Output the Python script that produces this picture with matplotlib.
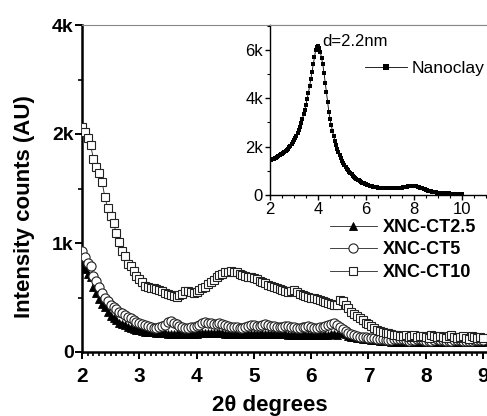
import numpy as np
import matplotlib
matplotlib.use("Agg")
import matplotlib.pyplot as plt
from matplotlib.ticker import FixedLocator, MultipleLocator

plt.rcParams["font.family"] = ["Liberation Sans", "DejaVu Sans"]

# XRD scans, 2-theta step 0.05 deg
two_theta = np.linspace(2.0, 9.0, 141)

ct25 = [
    800, 760, 720, 690, 600, 540, 490, 440, 410, 370,
    330, 310, 290, 270, 255, 245, 230, 220, 212, 205,
    198, 192, 188, 185, 182, 180, 178, 175, 172, 170,
    168, 166, 165, 164, 163, 162, 162, 163, 165, 166,
    168, 170, 172, 174, 175, 176, 175, 174, 172, 170,
    168, 166, 165, 164, 165, 166, 168, 167, 165, 163,
    162, 163, 165, 166, 165, 163, 162, 162, 163, 164,
    163, 162, 160, 159, 158, 158, 159, 160, 160, 159,
    158, 157, 156, 156, 157, 158, 160, 162, 163, 160,
    170, 175, 165, 150, 140, 135, 130, 126, 122, 118,
    115, 112, 110, 108, 105, 102, 100, 98, 96, 95,
    95, 94, 93, 93, 92, 92, 91, 91, 92, 92,
    93, 93, 92, 92, 91, 90, 90, 91, 91, 92,
    92, 91, 90, 90, 89, 89, 90, 90, 91, 91,
    90,
]

ct5 = [
    930, 870, 820, 790, 700, 650, 600, 540, 500, 470,
    430, 410, 390, 370, 355, 340, 325, 310, 290, 275,
    265, 255, 245, 235, 228, 222, 220, 225, 235, 250,
    275, 280, 270, 255, 240, 230, 222, 220, 225, 228,
    235, 250, 265, 275, 270, 262, 255, 260, 265, 255,
    245, 235, 230, 228, 225, 222, 220, 225, 235, 245,
    250, 240, 235, 245, 255, 250, 240, 235, 230, 228,
    232, 240, 235, 228, 225, 222, 220, 225, 230, 235,
    228, 222, 220, 225, 230, 235, 245, 255, 265, 250,
    230, 210, 190, 175, 165, 155, 145, 140, 138, 135,
    130, 128, 125, 120, 118, 115, 112, 110, 112, 115,
    118, 120, 115, 110, 105, 108, 112, 118, 115, 110,
    105, 100, 105, 110, 115, 112, 108, 100, 98, 102,
    108, 112, 110, 105, 100, 98, 102, 108, 112, 110,
    108,
]

ct10 = [
    2130, 2040, 1960, 1900, 1770, 1700, 1640, 1560, 1420, 1320,
    1250, 1180, 1090, 1010, 930, 880, 810, 790, 740, 700,
    670, 640, 610, 600, 590, 585, 580, 570, 560, 545,
    530, 520, 510, 505, 520, 530, 560, 560, 550, 545,
    555, 570, 585, 600, 620, 640, 660, 690, 710, 720,
    730, 735, 740, 735, 730, 720, 710, 700, 690, 685,
    680, 670, 655, 640, 630, 615, 605, 595, 585, 580,
    570, 560, 555, 560, 565, 550, 530, 520, 510, 505,
    500, 495, 490, 475, 465, 455, 450, 440, 435, 430,
    480, 470, 430, 400, 370, 345, 330, 310, 290, 270,
    255, 240, 220, 205, 190, 180, 175, 170, 165, 160,
    155, 150, 145, 155, 140, 150, 160, 135, 145, 150,
    140, 130, 155, 145, 135, 150, 140, 130, 145, 155,
    135, 125, 140, 150, 130, 120, 145, 135, 125, 140,
    130,
]

# pristine nanoclay, 2-10 deg, step 0.05
clay_theta = np.linspace(2.0, 10.0, 161)
clay = [
    1460, 1450, 1470, 1490, 1520, 1550, 1580, 1610, 1650, 1680,
    1710, 1740, 1780, 1820, 1870, 1920, 1980, 2040, 2110, 2180,
    2260, 2340, 2440, 2550, 2680, 2820, 2980, 3150, 3330, 3530,
    3740, 3980, 4230, 4500, 4800, 5100, 5420, 5720, 5980, 6120,
    6150, 6080, 5900, 5650, 5400, 5050, 4650, 4250, 3850, 3450,
    3150, 2900, 2650, 2450, 2250, 2080, 1920, 1780, 1650, 1530,
    1420, 1330, 1240, 1160, 1090, 1020, 960, 900, 850, 800,
    750, 710, 670, 630, 600, 570, 540, 510, 485, 460,
    440, 420, 400, 385, 370, 355, 340, 330, 320, 312,
    305, 300, 296, 293, 290, 288, 287, 286, 286, 287,
    285, 286, 287, 288, 290, 292, 295, 298, 300, 305,
    310, 318, 326, 335, 345, 355, 365, 372, 378, 380,
    378, 370, 360, 345, 330, 310, 290, 270, 250, 230,
    210, 192, 175, 160, 147, 135, 125, 116, 108, 100,
    94, 88, 83, 79, 75, 72, 70, 68, 66, 64,
    62, 60, 58, 57, 56, 55, 54, 53, 52, 51,
    50,
]

labels = ["XNC-CT2.5", "XNC-CT5", "XNC-CT10"]
y_major = [0, 1000, 2000, 4000]
y_major_labels = ["0", "1k", "2k", "4k"]
y_minor = [500, 1500, 3000]


# y axis is linear up to 2k, then compressed by half above it
def fwd(y):
    y = np.asarray(y, dtype=float)
    return np.where(y <= 2000, y, 2000 + (y - 2000) / 2)


def inv(t):
    t = np.asarray(t, dtype=float)
    return np.where(t <= 2000, t, 2000 + (t - 2000) * 2)


W, H = 487, 416
fig = plt.figure(figsize=(W / 100, H / 100), dpi=100)
ax = fig.add_axes([82 / W, 64 / H, 405 / W, 327 / H])

edge = "#222222"
ax.plot(two_theta, ct25, color=edge, lw=0.6, marker="^", ms=6.2,
        mfc="black", mec="black", mew=0.6, label=labels[0], zorder=2)
ax.plot(two_theta, ct5, color=edge, lw=0.6, marker="o", ms=6.6,
        mfc="white", mec=edge, mew=0.8, label=labels[1], zorder=3)
ax.plot(two_theta, ct10, color=edge, lw=0.6, marker="s", ms=6.4,
        mfc="white", mec=edge, mew=0.8, label=labels[2], zorder=4)

ax.set_yscale("function", functions=(fwd, inv))
ax.set_ylim(0, 4000)
ax.set_xlim(2, 9.07)
ax.yaxis.set_major_locator(FixedLocator(y_major))
ax.yaxis.set_minor_locator(FixedLocator(y_minor))
ax.set_yticklabels(y_major_labels)
ax.xaxis.set_major_locator(MultipleLocator(1))
ax.xaxis.set_minor_locator(MultipleLocator(0.1))

for s in ["left", "bottom"]:
    ax.spines[s].set_linewidth(1.8)
ax.spines["right"].set_visible(False)
ax.spines["top"].set_color("#888888")
ax.spines["top"].set_linewidth(0.8)

ax.tick_params(axis="x", which="major", direction="out", length=5, width=1.4,
               pad=6, labelsize=15)
ax.tick_params(axis="x", which="minor", direction="out", length=3, width=1.2)
ax.tick_params(axis="y", which="major", direction="out", length=5, width=1.4,
               pad=1, labelsize=14)
ax.tick_params(axis="y", which="minor", direction="out", length=3, width=1.2)
for t in ax.get_xticklabels() + ax.get_yticklabels():
    t.set_fontweight("bold")

fig.text(25 / W, 1 - 207 / H, "Intensity counts (AU)", rotation=90,
         ha="center", va="center", fontsize=16, fontweight="bold")
fig.text(270 / W, 1 - 405 / H, "2θ degrees", ha="center", va="center",
         fontsize=16, fontweight="bold")

fig.legend(*ax.get_legend_handles_labels(), loc="upper left",
           bbox_to_anchor=(330 / W, 1 - 219 / H), frameon=False,
           borderpad=0, borderaxespad=0, handlelength=2.6,
           handletextpad=0.3, labelspacing=0.3,
           prop={"size": 13, "weight": "bold"})

# inset: pristine nanoclay
axi = fig.add_axes([270 / W, (H - 195) / H, 217 / W, 170 / H], zorder=5)
axi.plot(clay_theta, clay, color="black", lw=0.6, marker="s", ms=2.6,
         mfc="black", mec="black", mew=0, label="Nanoclay")
axi.set_xlim(2, 11.04)
axi.set_ylim(0, 7030)
axi.xaxis.set_major_locator(MultipleLocator(2))
axi.xaxis.set_minor_locator(MultipleLocator(0.5))
axi.yaxis.set_major_locator(FixedLocator([0, 2000, 4000, 6000]))
axi.yaxis.set_minor_locator(MultipleLocator(1000))
axi.set_yticklabels(["0", "2k", "4k", "6k"])
axi.spines["right"].set_visible(False)
axi.spines["top"].set_color("#888888")
axi.spines["top"].set_linewidth(0.8)
for s in ["left", "bottom"]:
    axi.spines[s].set_linewidth(1.0)
axi.tick_params(which="major", direction="out", length=3.5, width=1.0,
                pad=1.5, labelsize=12)
axi.tick_params(which="minor", direction="out", length=2, width=0.8)
axi.text(4.19, 6330, "d=2.2nm", ha="left", va="center", fontsize=12)
axi.legend(loc="upper left", bbox_to_anchor=(365 / W, 1 - 61 / H),
           bbox_transform=fig.transFigure, frameon=False, borderpad=0,
           borderaxespad=0, handlelength=2.4, handletextpad=0.3,
           markerscale=1.6, prop={"size": 12.5})

fig.savefig("out.png", dpi=100)
